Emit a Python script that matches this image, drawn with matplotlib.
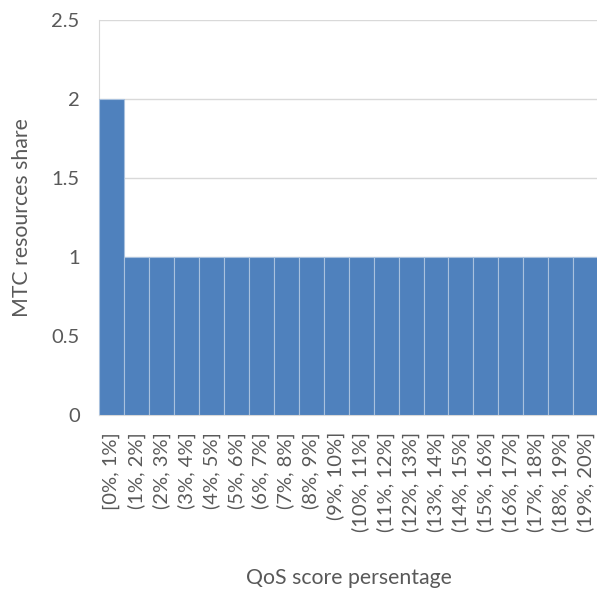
import matplotlib
matplotlib.use("Agg")
import matplotlib.pyplot as plt

plt.rcParams['font.family'] = ['Lato', 'DejaVu Sans']

# QoS score bins and MTC resource share
bins = ["[0%, 1%]"] + ["(%d%%, %d%%]" % (i, i + 1) for i in range(1, 20)]
share = [2] + [1] * 19

text_col = '#595959'
grid_col = '#D9D9D9'

fig = plt.figure(figsize=(5.97, 5.89), dpi=100)
ax = fig.add_axes([0.166, 0.295, 0.836, 0.671])

x = range(len(bins))
ax.bar(x, share, width=1.0, color='#4F81BD', edgecolor='#A9C1DE', linewidth=0.8, zorder=3)

ax.set_xlim(-0.5, len(bins) - 0.5)
ax.set_ylim(0, 2.5)
ax.set_yticks([0, 0.5, 1, 1.5, 2, 2.5])
ax.set_yticklabels(['0', '0.5', '1', '1.5', '2', '2.5'])
ax.set_xticks(list(x))
ax.set_xticklabels(bins, rotation=90)

ax.grid(axis='y', color=grid_col, linewidth=1, zorder=0)
for side in ['top', 'right']:
    ax.spines[side].set_visible(False)
ax.spines['left'].set_color(grid_col)
ax.spines['bottom'].set_color(grid_col)

ax.tick_params(axis='both', length=0, labelsize=14.5, colors=text_col)
ax.tick_params(axis='y', pad=14)
ax.tick_params(axis='x', pad=12)

ax.set_ylabel('MTC resources share', fontsize=15.3, color=text_col, labelpad=14)
ax.set_xlabel('QoS score persentage', fontsize=15.3, color=text_col, labelpad=26)

plt.savefig("out.png", dpi=100)
